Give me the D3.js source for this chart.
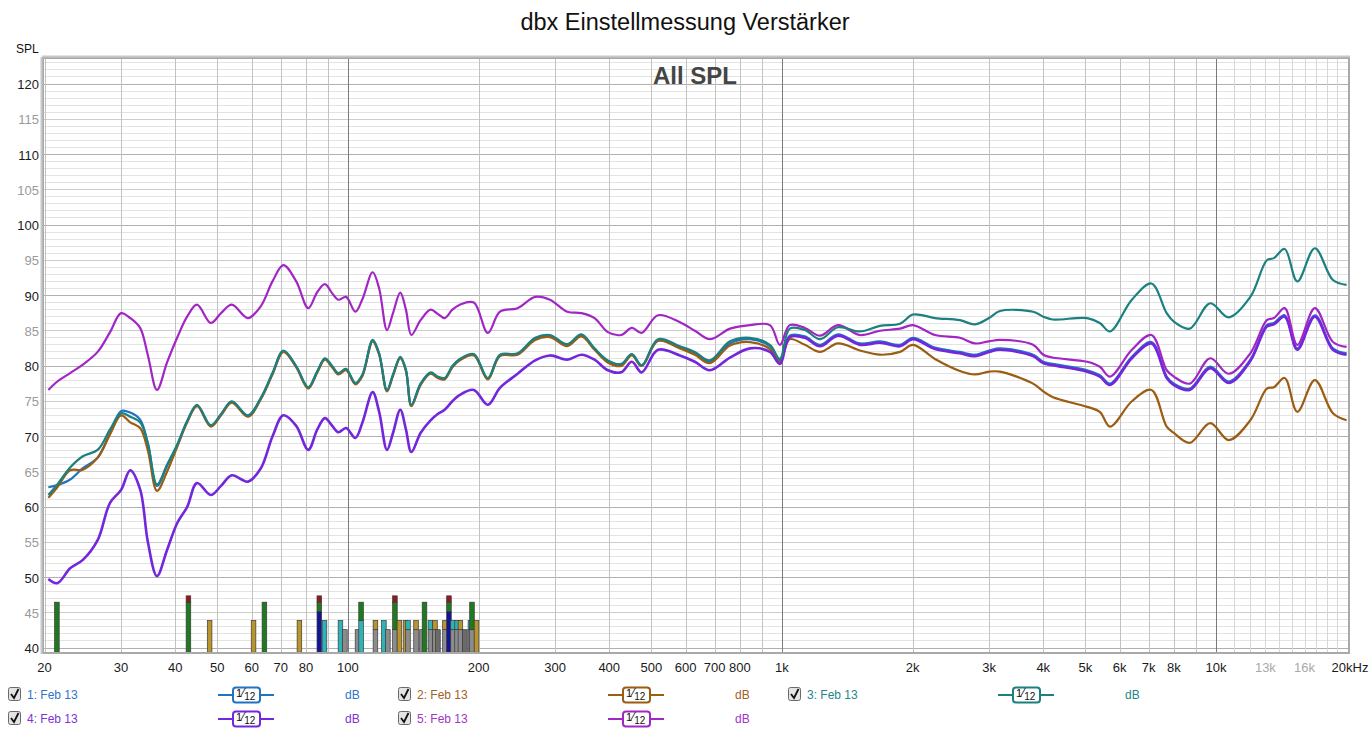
<!DOCTYPE html>
<html><head><meta charset="utf-8">
<script src="https://cdn.jsdelivr.net/npm/d3@7"></script>
<style>body{margin:0;background:#fff}svg{display:block;font-family:"Liberation Sans",Arial,sans-serif}</style>
</head><body><svg id="c" width="1369" height="734"></svg>
<script>
// ---------- data ----------
const freqs=[20.4,21.4,22.9,24.5,26.5,28.3,30,31.5,33.2,34.6,36.3,38.3,40.4,42.6,44.9,48.3,51,54,58.8,63,67,71,76,81,85,88.5,92,95,99,104,108,114,118,123,127,132,136,140,147,155,161,167,174,181,195,210,224,246,270,292,320,345,370,397,426,451,475,518,582,630,682,759,844,938,989,1042,1129,1224,1346,1513,1682,1871,2004,2252,2570,2784,3000,3180,3790,4000,4200,5050,5400,5700,6400,7100,7700,8000,8700,9700,10700,12000,13100,13600,14400,15400,16900,18600,20000];
const s1=[62.8,63.1,63.9,65.5,67.0,70.5,73.6,73.4,72.4,69.0,63.0,65.8,68.8,
72.1,74.4,71.5,73.1,74.9,72.9,75.4,78.9,82.1,79.9,76.9,79.2,81.0,79.9,78.9,79.5,77.5,78.7,83.6,81.7,76.5,78.7,81.2,79.4,74.4,77.4,79.0,78.4,78.2,79.9,80.9,81.6,78.2,81.5,81.7,83.9,84.3,83.0,84.4,82.4,80.7,80.2,81.6,80.0,83.6,82.6,81.8,80.6,83.2,83.8,82.8,80.8,
84.3,84.2,83.0,84.5,83.2,83.5,83.0,84.0,82.6,82.0,81.6,82.2,82.5,81.6,80.6,80.3,79.4,78.7,77.5,81.3,83.4,78.5,77.5,76.8,79.9,77.8,80.9,85.8,86.1,87.2,82.5,87.2,82.5,81.8];
const s2=[61.3,62.8,65.2,65.3,67.0,70.3,73.0,72.0,71.2,68.0,62.3,65.0,68.5,
72.0,74.3,71.4,73.0,74.8,72.8,75.3,78.8,82.0,79.8,76.8,79.1,80.9,79.8,78.8,79.4,77.4,78.6,83.5,81.6,76.4,78.6,81.1,79.3,74.3,77.3,78.9,78.3,78.1,79.8,80.8,81.5,78.1,81.4,81.6,83.7,84.1,82.8,84.2,82.3,80.5,80.0,81.5,80.0,83.6,82.5,81.6,80.4,82.9,83.4,82.4,80.6,
83.8,83.0,82.0,83.2,82.2,81.6,82.0,83.0,81.0,79.3,78.8,79.2,79.2,77.5,76.4,75.6,74.2,73.5,71.4,75.0,76.6,71.4,70.5,69.1,71.9,69.5,72.3,76.8,77.0,78.3,73.5,78.0,73.3,72.3];
const s3=[61.7,63.2,65.6,67.2,68.1,71.0,73.3,72.8,72.0,69.0,63.2,66.0,68.8,
72.2,74.5,71.6,73.2,75.0,73.0,75.5,79.0,82.2,80.0,77.0,79.3,81.1,80.0,79.0,79.6,77.6,78.8,83.7,81.8,76.6,78.8,81.3,79.5,74.5,77.5,79.1,78.5,78.3,80.0,81.0,81.7,78.3,81.6,81.8,84.0,84.4,83.1,84.5,82.5,80.8,80.3,81.7,80.1,83.8,82.8,82.0,80.8,83.5,84.0,83.0,81.0,
85.3,85.1,83.8,85.5,84.9,85.7,86.0,87.3,86.8,86.5,85.9,86.8,87.8,87.7,87.0,86.6,86.8,86.1,84.9,89.4,91.7,87.5,86.3,85.3,88.9,86.9,89.8,95.0,95.3,96.6,92.0,96.7,92.2,91.5];
const s4=[49.8,49.2,51.3,52.5,55.3,60.6,62.4,65.2,62.5,55.0,50.2,53.9,57.7,
60.0,63.4,61.7,63.0,64.5,63.6,65.5,70.0,73.0,71.5,68.1,71.0,72.6,71.5,70.6,71.2,69.8,72.0,76.3,73.5,68.1,70.5,73.8,71.0,67.8,70.5,72.3,73.2,73.8,75.0,75.9,76.6,74.5,76.9,78.9,80.8,81.5,80.9,81.6,80.9,79.4,79.1,80.6,79.1,82.3,81.5,80.6,79.4,81.2,82.5,82.0,80.3,
84.1,84.0,82.8,84.3,83.0,83.3,82.8,83.8,82.4,81.8,81.4,82.0,82.3,81.4,80.4,80.1,79.2,78.5,77.3,81.1,83.2,78.3,77.3,76.6,79.7,77.6,80.7,85.6,85.9,87.0,82.3,87.0,82.3,81.6];
const s5=[76.6,77.8,79.0,80.2,82.0,84.8,87.5,86.8,85.4,81.5,76.6,80.5,84.0,
87.0,88.7,86.1,87.5,88.7,86.8,88.5,92.0,94.3,92.0,88.2,90.5,91.6,90.3,89.4,89.8,87.7,89.5,93.3,91.0,85.1,87.5,90.4,88.0,84.4,86.5,88.0,87.4,86.8,88.0,88.7,89.0,84.7,87.7,88.2,89.8,89.4,87.7,87.5,86.8,84.8,84.4,85.4,84.7,87.2,86.2,85.0,83.8,85.3,85.8,85.8,83.0,
85.8,85.4,84.3,85.8,84.4,85.0,85.3,85.8,84.4,84.0,83.2,83.5,83.7,83.0,81.6,81.2,80.6,79.9,78.5,82.3,84.4,79.4,78.5,77.5,81.1,78.9,81.8,86.5,86.8,88.2,83.0,88.2,83.4,82.7];

const seriesNames=["1: Feb 13","2: Feb 13","3: Feb 13","4: Feb 13","5: Feb 13"];
const seriesColors=["#2272c3","#9c5c12","#1b8080","#7326dc","#a226c4"];
const seriesText=["#2f74c8","#a0621e","#23868a","#7a34d2","#a234c6"];

const yTicks=[40,45,50,55,60,65,70,75,80,85,90,95,100,105,110,115,120];
const xTicks=[20,30,40,50,60,70,80,100,200,300,400,500,600,700,800,1000,2000,3000,4000,5000,6000,7000,8000,10000,13000,16000,20000];
const xTickLabels=["20","30","40","50","60","70","80","100","200","300","400","500","600","700","800","1k","2k","3k","4k","5k","6k","7k","8k","10k","13k","16k","20kHz"];

// bar markers: frequency and stacked segments [colour key, top dB]
const barFreqs=[21.35,42.9,48.0,60.6,64.2,77.3,85.9,88.3,96.1,98.4,105.2,107.2,115.7,121.0,123.6,128.3,131.4,135.7,137.5,143.5,148.1,150.1,154.9,158.7,161.2,167.3,170.9,174.6,178.4,181.6,186.0,191.5,193.1,197.8];
const barStacks=[
[["g",46.5]],[["g",46.5],["r",47.4]],[["y",43.9]],[["y",43.9]],[["g",46.5]],[["y",43.9]],
[["b",45.2],["g",46.5],["r",47.4]],[["c",43.9]],[["c",43.9]],[["k",42.6]],[["k",42.6]],[["c",43.9],["g",46.5]],
[["k",42.6],["y",43.9]],[["c",43.9]],[["k",42.6]],[["k",42.6],["g",46.5],["r",47.4]],[["y",43.9]],[["y",43.9]],
[["k",42.6],["c",43.9]],[["k",42.6],["y",43.9]],[["k",42.6]],[["g",46.5]],[["k",42.6],["c",43.9]],[["k",42.6],["y",43.9]],
[["d",42.6]],[["k",42.6],["y",43.9]],[["b",45.2],["g",46.5],["r",47.4]],[["k",42.6],["c",43.9]],[["k",42.6],["c",43.9]],
[["k",42.6],["y",43.9]],[["d",42.6]],[["k",42.6],["c",43.9]],[["k",42.6],["g",46.5]],[["y",43.9]]];
const barColor={g:"#1f7a1f",r:"#8e1c1c",y:"#b9952c",b:"#141496",c:"#2db3b8",k:"#8c8c8c",d:"#6b6b6b"};

// ---------- drawing ----------
const svg=d3.select("#c");
const x=d3.scaleLog().domain([20,20000]).range([44.6,1346.6]);
const y=d3.scaleLinear().domain([40,120]).range([648,84]);
const P={l:44,r:1348,t:59,b:652};

svg.append("text").attr("x",685).attr("y",30).attr("text-anchor","middle")
  .attr("font-size",23.5).attr("fill","#111").text("dbx Einstellmessung Verstärker");
svg.append("text").attr("x",16).attr("y",53).attr("font-size",12).attr("fill","#111").text("SPL");

svg.append("defs").append("clipPath").attr("id","pc").append("rect")
  .attr("x",P.l).attr("y",P.t).attr("width",P.r-P.l).attr("height",P.b-P.t);
const g=svg.append("g").attr("clip-path","url(#pc)");

// horizontal grid
d3.range(39,124).forEach(v=>{
  const c=v%10===0?"#b0b0b0":(v%5===0?"#cdcdcd":"#e3e3e3");
  g.append("line").attr("x1",P.l).attr("x2",P.r).attr("y1",y(v)).attr("y2",y(v))
   .attr("stroke",c).attr("stroke-width",1).attr("shape-rendering","crispEdges");
});
// vertical grid
const vlines=[];
[10,100,1000].forEach(d=>{for(let m=1;m<10;m++){const f=d*m;if(f>=20&&f<10000)vlines.push([f,m===1?"#7a7a7a":"#c2c2c2"]);}});
vlines.push([10000,"#7a7a7a"]);
for(let k=11;k<=19;k++)vlines.push([k*1000,"#d6d6d6"]);
vlines.forEach(([f,c])=>{
  g.append("line").attr("x1",Math.round(x(f))+0.5).attr("x2",Math.round(x(f))+0.5).attr("y1",P.t).attr("y2",P.b)
   .attr("stroke",c).attr("stroke-width",1);
});

// bars
barFreqs.forEach((f,i)=>{
  let base=40-0.6;
  const cx=x(f);
  barStacks[i].forEach(([k,top])=>{
    g.append("rect").attr("x",cx-2.3).attr("width",4.6)
     .attr("y",y(top)).attr("height",y(base)-y(top))
     .attr("fill",barColor[k]).attr("stroke","#3a3a3a").attr("stroke-width",0.7);
    base=top;
  });
});

// All SPL
svg.append("text").attr("x",695).attr("y",84).attr("text-anchor","middle")
  .attr("font-size",24).attr("font-weight","bold").attr("fill","#454545").text("All SPL");

// curves
const line=d3.line().x((d,i)=>x(freqs[i])).y(d=>y(d)).curve(d3.curveCatmullRom.alpha(0.5));
const allS=[s1,s2,s3,s4,s5];
[0,1,3,4,2].forEach(i=>{
  g.append("path").attr("d",line(allS[i])).attr("fill","none")
   .attr("stroke",seriesColors[i]).attr("stroke-width",i===3?2.6:2.2).attr("stroke-linejoin","round");
});

// frame
svg.append("rect").attr("x",P.l-1).attr("y",P.t-1).attr("width",P.r-P.l+2).attr("height",P.b-P.t+2)
  .attr("fill","none").attr("stroke","#a9a9a9").attr("stroke-width",2);
svg.append("line").attr("x1",P.l-2.5).attr("x2",P.l-2.5).attr("y1",P.t-2).attr("y2",P.b+2).attr("stroke","#c8c8c8").attr("stroke-width",2);
svg.append("line").attr("x1",P.l-2).attr("x2",P.r+2).attr("y1",P.t-2.5).attr("y2",P.t-2.5).attr("stroke","#c8c8c8").attr("stroke-width",2);

// y labels
yTicks.forEach(v=>{
  svg.append("text").attr("x",39).attr("y",y(v)+5).attr("text-anchor","end").attr("font-size",13)
   .attr("fill",v%10===0?"#1a1a1a":"#9a9a9a").text(v);
});
// x labels
xTicks.forEach((f,i)=>{
  const last=i===xTicks.length-1;
  svg.append("text").attr("x",last?x(f)-15:x(f)).attr("y",672)
   .attr("text-anchor",last?"start":"middle").attr("font-size",13)
   .attr("font-family","'Liberation Sans Narrow','Arial Narrow','Liberation Sans',sans-serif")
   .attr("fill",(f===13000||f===16000)?"#a8a8a8":"#1a1a1a").text(xTickLabels[i]);
});

// legend
const legPos=[[8,695],[398,695],[788,695],[8,719],[398,719]];
legPos.forEach(([lx,ly],i)=>{
  const lg=svg.append("g");
  lg.append("rect").attr("x",lx+0.5).attr("y",ly-7.5).attr("width",12).attr("height",13).attr("rx",2)
    .attr("fill","#e4e4e4").attr("stroke","#6a6a6a");
  lg.append("path").attr("d",`M${lx+3},${ly-1} L${lx+6},${ly+3} L${lx+10.5},${ly-6}`)
    .attr("fill","none").attr("stroke","#111").attr("stroke-width",1.8);
  lg.append("text").attr("x",lx+19).attr("y",ly+4).attr("font-size",12)
    .attr("font-family","'Liberation Sans Narrow','Arial Narrow','Liberation Sans',sans-serif")
    .attr("fill",seriesText[i]).text(seriesNames[i]);
  const sx=lx+210;
  lg.append("line").attr("x1",sx).attr("x2",sx+56).attr("y1",ly).attr("y2",ly).attr("stroke",seriesColors[i]).attr("stroke-width",2);
  lg.append("rect").attr("x",sx+15).attr("y",ly-7.5).attr("width",27).attr("height",15).attr("rx",3)
    .attr("fill","#fff").attr("stroke",seriesColors[i]).attr("stroke-width",2);
  const t=lg.append("text").attr("x",sx+18).attr("y",ly+3).attr("font-size",11).attr("fill","#111");
  t.append("tspan").attr("dy",-1).text("1");
  t.append("tspan").attr("dy",0).attr("font-size",12).text("⁄");
  t.append("tspan").attr("dy",3).attr("font-size",10).text("12");
  lg.append("text").attr("x",lx+337).attr("y",ly+4).attr("font-size",12)
    .attr("font-family","'Liberation Sans Narrow','Arial Narrow','Liberation Sans',sans-serif")
    .attr("fill",seriesText[i]).text("dB");
});
</script></body></html>
